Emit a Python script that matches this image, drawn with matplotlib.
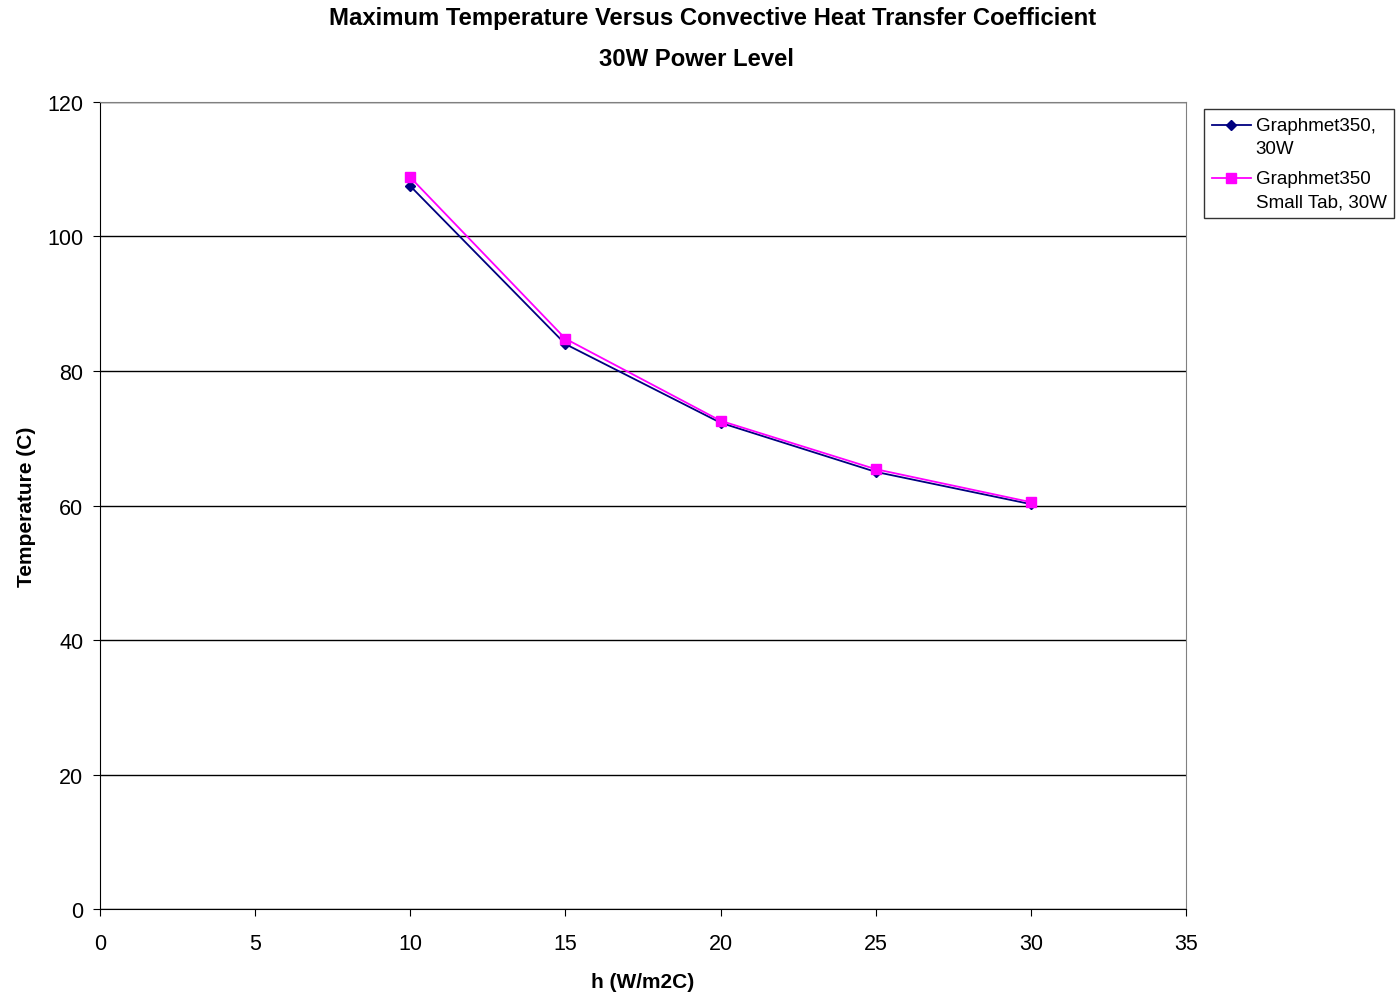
import numpy as np
import matplotlib
matplotlib.use('Agg')
import matplotlib.pyplot as plt
from matplotlib.legend_handler import HandlerLine2D

plt.rcParams['font.family'] = ['Liberation Sans', 'DejaVu Sans']

h = [10, 15, 20, 25, 30]
temp_std = [107.5, 84.0, 72.3, 65.0, 60.2]
temp_small = [108.8, 84.8, 72.6, 65.4, 60.5]


# legend handle sits on the first line of a two-line label
class FirstLineHandler(HandlerLine2D):
	def create_artists(self, legend, orig_handle, xdescent, ydescent,
			width, height, fontsize, trans):
		return super().create_artists(legend, orig_handle, xdescent,
			ydescent - 16.6, width, height, fontsize, trans)


fig = plt.figure(figsize=(13.96, 9.95), dpi=100)
ax = fig.add_axes([0.0716, 0.0854, 0.7780, 0.8111])

l1, = ax.plot(h, temp_std, color='#000080', marker='D', markersize=5.5, lw=1.3,
	label='Graphmet350,\n30W', zorder=2)
l2, = ax.plot(h, temp_small, color='#FF00FF', marker='s', markersize=6.5, lw=1.3,
	label='Graphmet350\nSmall Tab, 30W', zorder=3)

ax.set_xlim(0, 35)
ax.set_ylim(0, 120)
ax.set_xticks(np.arange(0, 36, 5))
ax.set_yticks(np.arange(0, 121, 20))
ax.yaxis.grid(True, color='black', lw=1)
ax.set_axisbelow(True)
ax.tick_params(labelsize=15.5, direction='out', length=5, color='black')
ax.tick_params(axis='x', pad=12)
ax.tick_params(axis='y', pad=7)
for s in ax.spines.values():
	s.set_color('#808080')
ax.spines['left'].set_color('black')
ax.spines['bottom'].set_color('black')

ax.set_xlabel('h (W/m2C)', fontsize=15, fontweight='bold', labelpad=13)
ax.set_ylabel('Temperature (C)', fontsize=15, fontweight='bold', labelpad=8)
fig.text(0.5105, 0.981, 'Maximum Temperature Versus Convective Heat Transfer Coefficient',
	ha='center', va='center', fontsize=17.2, fontweight='bold')
fig.text(0.499, 0.940, '30W Power Level', ha='center', va='center',
	fontsize=17.2, fontweight='bold')

leg = ax.legend(loc='upper left', bbox_to_anchor=(1.0166, 0.9913), fontsize=13.5,
	frameon=True, fancybox=False, edgecolor='black', handlelength=2.1,
	borderpad=0.4, labelspacing=0.67, handletextpad=0.25, borderaxespad=0,
	handler_map={l1: FirstLineHandler(), l2: FirstLineHandler()})
leg.get_frame().set_linewidth(1)
for t in leg.get_texts():
	t.set_linespacing(1.5)

fig.savefig('out.png', dpi=100)
